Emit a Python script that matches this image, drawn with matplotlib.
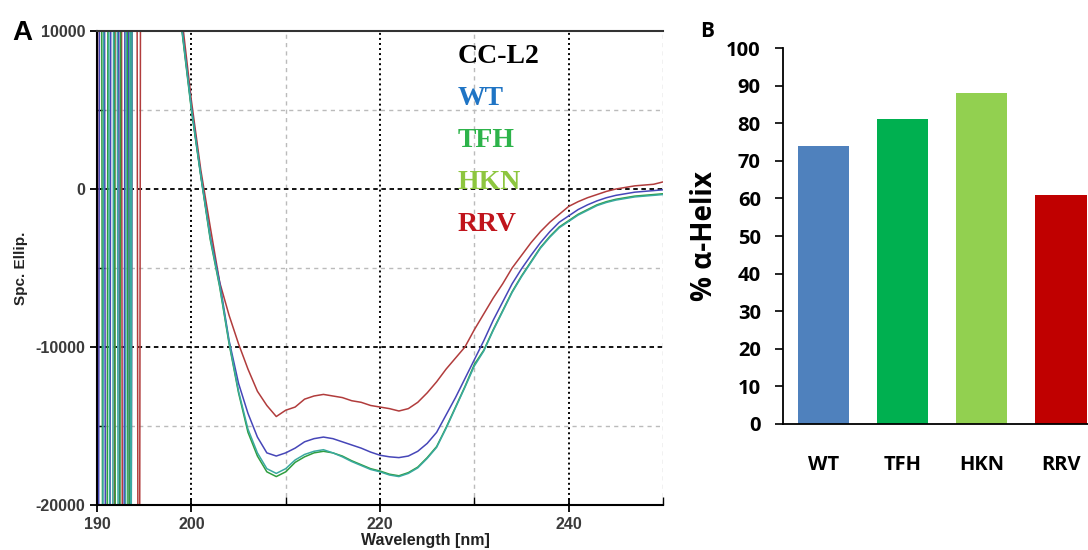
import numpy as np
import matplotlib
matplotlib.use("Agg")
import matplotlib.pyplot as plt
from matplotlib.ticker import FixedLocator, MultipleLocator

plt.rcParams["axes.unicode_minus"] = False

# --- Panel A: CD spectra ---
# below ~195 nm the detector saturates: the trace jumps between off-scale values
NOISE_WL = [190.0, 190.15, 190.3, 190.45, 190.6, 190.75, 190.9, 191.05, 191.2,
            191.35, 191.5, 191.65, 191.8, 191.95, 192.1, 192.25, 192.4, 192.55,
            192.7, 192.85, 193.0, 193.15, 193.3, 193.45, 193.6, 193.75, 193.9,
            194.05, 194.2, 194.35, 194.5, 194.65, 194.8]
WL = list(range(195, 251))

HI, LO = 30000, -30000

SPECTRA = {
    "RRV": {
        "noise": [HI, LO, LO, LO, LO, LO, LO, LO, LO, LO, LO, LO, LO, HI, HI, HI, HI,
                  HI, LO, LO, LO, LO, LO, LO, LO, HI, HI, HI, HI, LO, LO, HI, HI],
        "main": [40000, 35000, 25000, 16000, 10800, 5600, 1200, -2400, -5900, -8000,
                 -9800, -11400, -12800, -13700, -14400, -14000, -13800, -13300, -13100, -13000,
                 -13100, -13200, -13400, -13500, -13700, -13800, -13900, -14050, -13900, -13500,
                 -12900, -12200, -11400, -10700, -10000, -8900, -7900, -6900, -6000, -5000,
                 -4200, -3400, -2700, -2100, -1600, -1100, -800, -550, -350, -150,
                 0, 100, 200, 250, 300, 450],
        "color": "#b13c3c",
    },
    "WT": {
        "noise": [LO, LO, HI, HI, HI, HI, LO, LO, LO, LO, HI, HI, HI, HI, HI, HI, LO,
                  LO, LO, LO, HI, HI, HI, LO, LO, HI, HI, HI, HI, HI, HI, HI, HI],
        "main": [40000, 35000, 25000, 16000, 10200, 5200, 900, -3000, -5900, -9600,
                 -12300, -14200, -15700, -16700, -16900, -16700, -16400, -16000, -15800, -15700,
                 -15800, -16000, -16200, -16400, -16650, -16850, -16950, -17000, -16900, -16600,
                 -16100, -15400, -14300, -13200, -12000, -10800, -9600, -8300, -7150, -6000,
                 -5050, -4200, -3400, -2700, -2100, -1700, -1300, -1000, -750, -550,
                 -400, -300, -200, -150, -100, -50],
        "color": "#4646b8",
    },
    "TFH": {
        "noise": [HI, HI, HI, HI, LO, LO, LO, LO, HI, HI, HI, HI, HI, LO, LO, LO, LO,
                  HI, HI, HI, HI, HI, LO, LO, HI, HI, HI, HI, HI, HI, HI, HI, HI],
        "main": [40000, 35000, 25000, 16000, 10000, 5000, 800, -3200, -6200, -9800,
                 -12900, -15400, -16900, -17900, -18200, -17900, -17300, -16950, -16700, -16600,
                 -16700, -16900, -17200, -17450, -17700, -17850, -18050, -18150, -17950, -17600,
                 -17000, -16300, -15100, -13800, -12500, -11100, -10200, -8900, -7700, -6500,
                 -5500, -4600, -3700, -3000, -2400, -2000, -1600, -1300, -1000, -800,
                 -650, -550, -450, -400, -350, -300],
        "color": "#2f9e3f",
    },
    "HKN": {
        "noise": [LO, LO, LO, LO, LO, HI, HI, HI, HI, LO, LO, LO, HI, HI, HI, LO, LO,
                  LO, LO, LO, LO, HI, HI, HI, LO, HI, HI, HI, HI, HI, HI, HI, HI],
        "main": [40000, 35000, 25000, 16000, 10100, 5100, 850, -3100, -6100, -9700,
                 -12800, -15200, -16700, -17700, -18000, -17700, -17150, -16800, -16600, -16500,
                 -16700, -16950, -17250, -17500, -17750, -17900, -18100, -18200, -18000, -17650,
                 -17050, -16350, -15150, -13850, -12550, -11200, -10250, -8950, -7750, -6550,
                 -5550, -4650, -3750, -3050, -2450, -2050, -1650, -1350, -1050, -850,
                 -700, -600, -500, -450, -400, -350],
        "color": "#3aa9a0",
    },
}

LEGEND_LABELS = ["CC-L2", "WT", "TFH", "HKN", "RRV"]
LEGEND_COLORS = ["#000000", "#1f74c4", "#2db34a", "#8dc63f", "#c0141c"]

# --- Panel B: helix content ---
CATEGORIES = ["WT", "TFH", "HKN", "RRV"]
HELIX = [74, 81, 88, 61]
BAR_COLORS = ["#4f81bd", "#00b050", "#92d050", "#c00000"]

fig = plt.figure(figsize=(10.88, 5.5), dpi=100)

# ---------------- Panel A ----------------
ax = fig.add_axes([0.0892, 0.0818, 0.5202, 0.8618])
for name in ["RRV", "WT", "TFH", "HKN"]:
    s = SPECTRA[name]
    x = NOISE_WL + WL
    y = s["noise"] + s["main"]
    ax.plot(x, y, color=s["color"], lw=1.1)

ax.set_xlim(190, 250)
ax.set_ylim(-20000, 10000)
ax.xaxis.set_major_locator(FixedLocator([190, 200, 220, 240]))
ax.xaxis.set_minor_locator(FixedLocator([210, 230, 250]))
ax.yaxis.set_major_locator(MultipleLocator(10000))
ax.yaxis.set_minor_locator(MultipleLocator(5000))

# grid: major black dotted/dashed, minor light grey dashed
for v in [200, 220, 240]:
    ax.axvline(v, color="black", lw=1.4, ls=(0, (1, 1.6)), zorder=0)
for v in [210, 230, 250]:
    ax.axvline(v, color="#bbbbbb", lw=1.0, ls=(0, (3, 3)), zorder=0)
for v in [0, -10000]:
    ax.axhline(v, color="black", lw=1.3, ls=(0, (2.5, 2)), zorder=0)
for v in [5000, -5000, -15000]:
    ax.axhline(v, color="#bbbbbb", lw=1.0, ls=(0, (3, 3)), zorder=0)

ax.spines["right"].set_visible(False)
ax.spines["top"].set_color("#333333")
ax.spines["top"].set_linewidth(1.5)
ax.spines["left"].set_linewidth(1.5)
ax.spines["bottom"].set_linewidth(1.5)
ax.tick_params(which="major", direction="inout", length=10, width=1.3,
               labelsize=11.5, labelcolor="#3a3a3a")
ax.tick_params(which="minor", direction="in", length=6, width=1.0)
ax.tick_params(top=False, right=False)
for lab in ax.get_xticklabels() + ax.get_yticklabels():
    lab.set_fontweight("bold")
    lab.set_family("Liberation Sans")
ax.set_ylabel("Spc. Ellip.", fontsize=11, fontweight="bold", color="#222222",
              family="Liberation Sans")
ax.yaxis.set_label_coords(-0.122, 0.5)
ax.set_xlabel("Wavelength [nm]", fontsize=11.5, fontweight="bold", color="#222222",
              family="Liberation Sans")
ax.xaxis.set_label_coords(0.58, -0.06)

for i, (lab, col) in enumerate(zip(LEGEND_LABELS, LEGEND_COLORS)):
    fig.text(458 / 1088, 1 - (63 + 42 * i) / 550, lab, color=col,
             fontsize=20, fontweight="bold", family="Liberation Serif",
             ha="left", va="baseline")

fig.text(12 / 1088, 1 - 40 / 550, "A", fontsize=20, fontweight="bold",
         family="Liberation Sans", va="baseline")

# ---------------- Panel B ----------------
bx = fig.add_axes([0.7197, 0.2291, 0.2803, 0.6836])
xpos = np.arange(len(CATEGORIES))
bx.bar(xpos, HELIX, width=0.645, color=BAR_COLORS)
bx.set_xlim(-0.506, 3.34)
bx.set_ylim(0, 100)
bx.yaxis.set_major_locator(MultipleLocator(10))
bx.set_xticks(xpos)
bx.set_xticklabels(CATEGORIES)
bx.spines["top"].set_visible(False)
bx.spines["right"].set_visible(False)
bx.spines["left"].set_linewidth(1.3)
bx.spines["bottom"].set_linewidth(1.3)
bx.tick_params(axis="x", length=0, pad=22)
bx.tick_params(axis="y", length=6, width=1.2, pad=10)
for lab in bx.get_xticklabels() + bx.get_yticklabels():
    lab.set_fontweight("bold")
    lab.set_family("Open Sans")
    lab.set_fontsize(14.5)
bx.set_ylabel("% \u03b1-Helix", fontsize=20, fontweight="bold", family="Open Sans")
bx.yaxis.set_label_coords(-0.21, 0.5)

fig.text(700 / 1088, 1 - 37 / 550, "B", fontsize=15, fontweight="bold",
         family="Open Sans", va="baseline")

fig.savefig("out.png", dpi=100)
